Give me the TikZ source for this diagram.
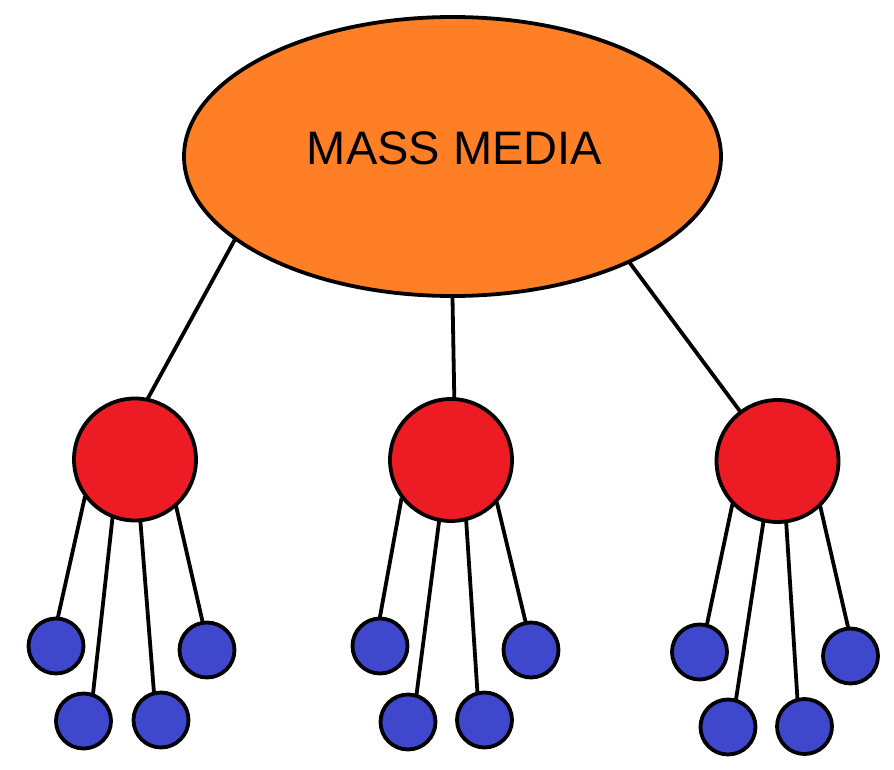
\documentclass[tikz,border=0pt]{standalone}
\usepackage{fontspec}
\setmainfont{Liberation Sans}
\usetikzlibrary{shapes.geometric,backgrounds}
\definecolor{mmorange}{RGB}{255,127,39}
\definecolor{mmred}{RGB}{237,28,36}
\definecolor{mmblue}{RGB}{63,72,204}
\begin{document}
\begin{tikzpicture}[x=1pt,y=-1pt,
  link/.style={line width=3.8pt, shorten <=-1pt, shorten >=-1pt},
  media/.style={ellipse, draw, line width=3.8pt, fill=mmorange, minimum width=537pt, minimum height=279pt, inner sep=0pt},
  hub/.style={circle, draw, line width=3.8pt, fill=mmred, minimum size=122pt, inner sep=0pt},
  leaf/.style={circle, draw, line width=3.8pt, fill=mmblue, minimum size=55pt, inner sep=0pt},
  title/.style={font=\fontsize{47}{52}\selectfont, inner sep=0pt, text depth=0pt}]
\useasboundingbox (0,0) rectangle (894,770);
\node[media] (mm) at (452.5,156.5) {};
\node[title] (mmt) at (454.5,148.5) {MASS MEDIA};
\node[hub] (r1) at (135,459.5) {};
\node[hub] (r2) at (451,460) {};
\node[hub] (r3) at (777.5,461) {};
\node[leaf] (b11) at (56,646) {};
\node[leaf] (b12) at (83.5,721) {};
\node[leaf] (b13) at (161,720) {};
\node[leaf] (b14) at (207,650) {};
\node[leaf] (b21) at (380,646) {};
\node[leaf] (b22) at (408,722) {};
\node[leaf] (b23) at (484.5,720) {};
\node[leaf] (b24) at (531,650) {};
\node[leaf] (b31) at (699.5,652) {};
\node[leaf] (b32) at (728,727) {};
\node[leaf] (b33) at (804.5,726.5) {};
\node[leaf] (b34) at (850.5,656) {};
\begin{scope}[on background layer]
\draw[link] (mm.201.8) -- (r1.78);
\draw[link] (mm.270) -- (r2.87);
\draw[link] (mm.329.8) -- (r3.127);
\draw[link] (r1.217.6) -- (b11.86);
\draw[link] (r1.249.2) -- (b12.71);
\draw[link] (r1.275.5) -- (b13.104);
\draw[link] (r1.311) -- (b14.99.5);
\draw[link] (r2.218.4) -- (b21.90);
\draw[link] (r2.259.6) -- (b22.73);
\draw[link] (r2.284.5) -- (b23.104);
\draw[link] (r2.317.5) -- (b24.101);
\draw[link] (r3.224.7) -- (b31.75.5);
\draw[link] (r3.257.7) -- (b32.74.6);
\draw[link] (r3.278.6) -- (b33.104);
\draw[link] (r3.313.4) -- (b34.95);
\end{scope}
\end{tikzpicture}
\end{document}
